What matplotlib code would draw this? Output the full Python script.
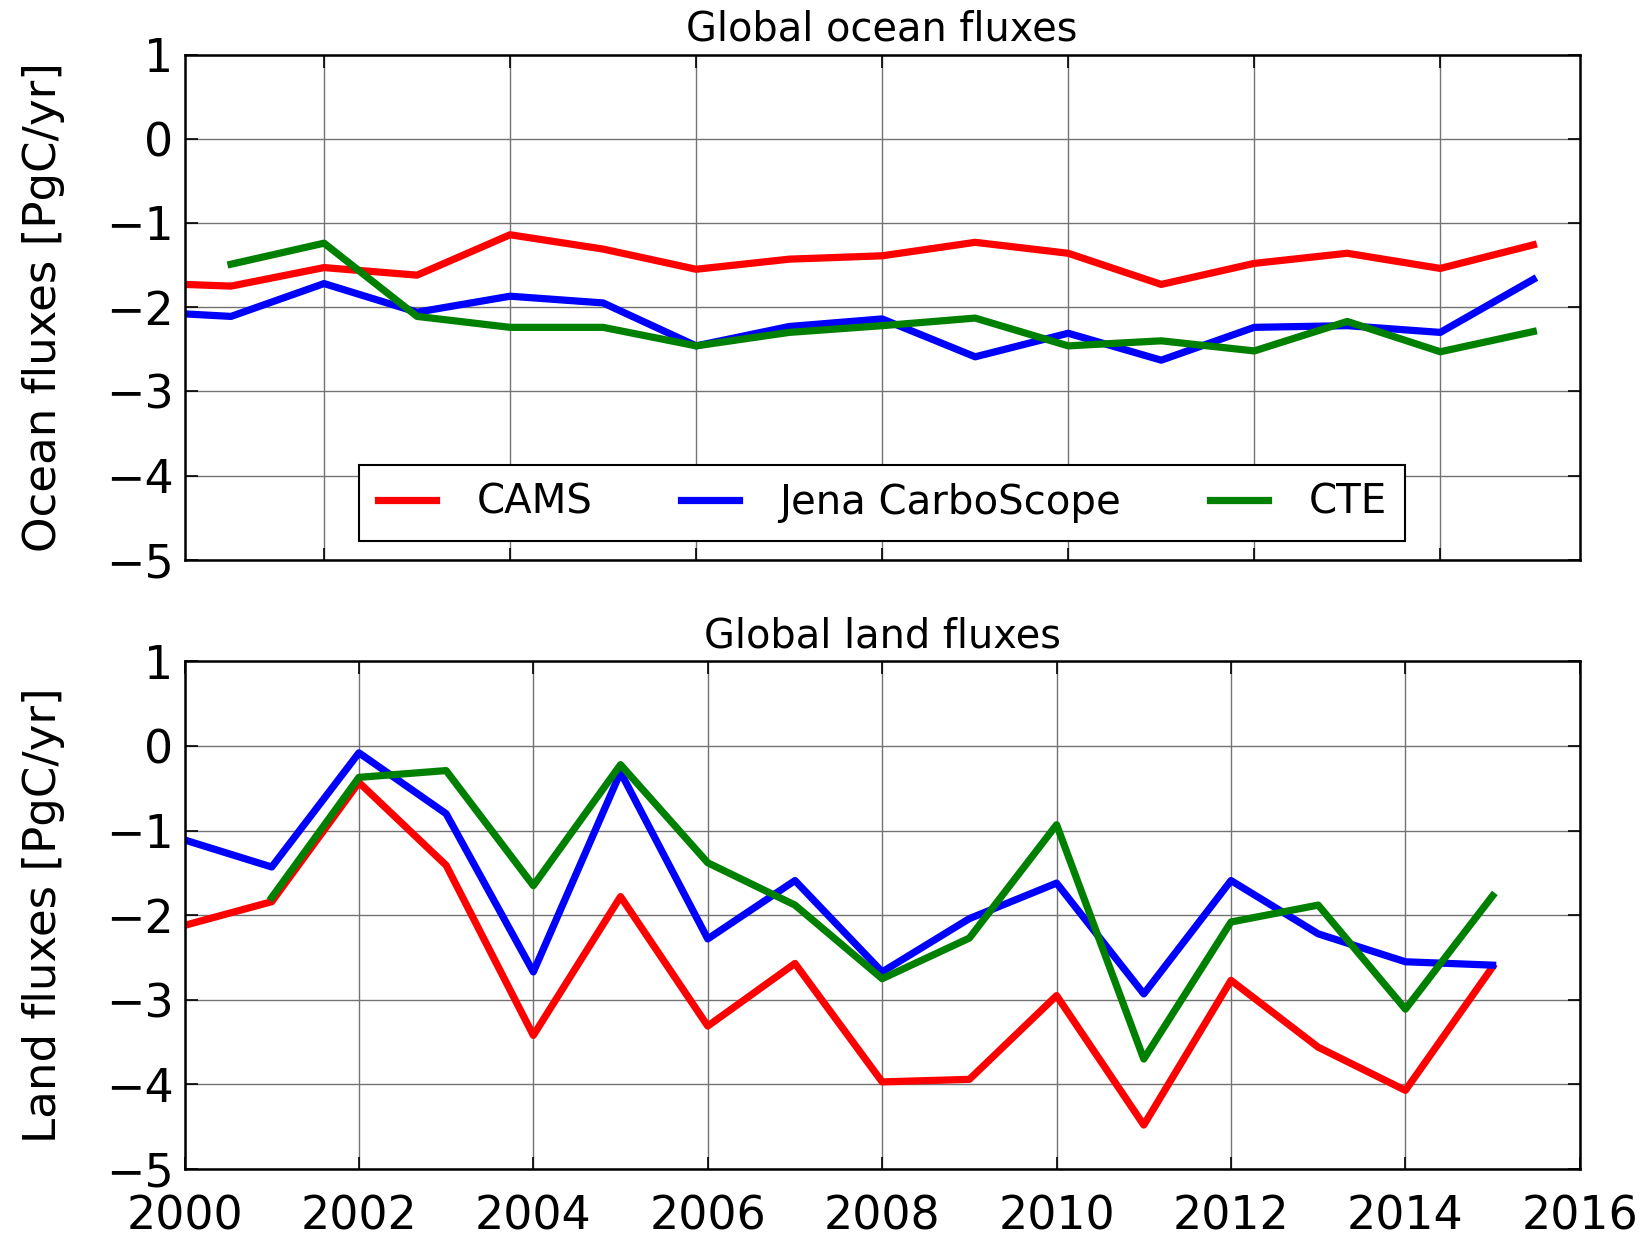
import matplotlib
matplotlib.use("Agg")
import matplotlib.pyplot as plt
import numpy as np

# years of the annual fluxes
anni = np.arange(2000, 2016)

# Global ocean fluxes [PgC/yr]
oceano_cams = [-1.71, -1.75, -1.53, -1.62, -1.14, -1.31, -1.55, -1.43,
               -1.39, -1.23, -1.36, -1.73, -1.48, -1.36, -1.54, -1.26]
oceano_jena = [-2.05, -2.11, -1.72, -2.06, -1.87, -1.95, -2.46, -2.23,
               -2.14, -2.59, -2.31, -2.63, -2.24, -2.22, -2.30, -1.67]
oceano_cte = [np.nan, -1.49, -1.24, -2.11, -2.24, -2.24, -2.46, -2.30,
              -2.22, -2.13, -2.46, -2.40, -2.52, -2.17, -2.53, -2.29]

# Global land fluxes [PgC/yr]
terra_cams = [-2.12, -1.84, -0.43, -1.41, -3.42, -1.78, -3.31, -2.57,
              -3.97, -3.94, -2.95, -4.48, -2.77, -3.56, -4.07, -2.61]
terra_jena = [-1.11, -1.43, -0.08, -0.80, -2.67, -0.31, -2.28, -1.59,
              -2.67, -2.04, -1.62, -2.93, -1.59, -2.22, -2.55, -2.59]
terra_cte = [np.nan, -1.79, -0.37, -0.29, -1.65, -0.22, -1.38, -1.88,
             -2.75, -2.27, -0.93, -3.70, -2.08, -1.88, -3.11, -1.77]

nomi = ["CAMS", "Jena CarboScope", "CTE"]
colori = ["#ff0000", "#0000ff", "#008000"]

plt.rcParams['font.family'] = ['DejaVu Sans']

fig = plt.figure(figsize=(16.46, 12.41), dpi=100)
ax1 = fig.add_axes([0.1121, 0.549, 0.8477, 0.407])
ax2 = fig.add_axes([0.1121, 0.058, 0.8477, 0.409])


def stileAssi(ax):
    ax.set_ylim(-5, 1)
    ax.set_yticks(np.arange(-5, 2, 1))
    ax.grid(True, color='0.45', linewidth=1.0, linestyle='-')
    ax.set_axisbelow(True)
    ax.tick_params(direction='in', top=True, right=True, length=9,
                   width=1.2, labelsize=33, pad=8)
    ax.tick_params(axis='x', pad=18)
    for s in ax.spines.values():
        s.set_linewidth(1.8)


# top panel: ocean
for serie, nome, col in zip([oceano_cams, oceano_jena, oceano_cte], nomi, colori):
    ax1.plot(anni, serie, color=col, linewidth=5.2, label=nome)
stileAssi(ax1)
ax1.set_xlim(2000.5, 2015.5)
ax1.set_xticks(np.arange(2002, 2016, 2))
ax1.tick_params(labelbottom=False)
ax1.set_title("Global ocean fluxes", fontsize=28.7, pad=10)
ax1.set_ylabel("Ocean fluxes [PgC/yr]", fontsize=32.5)
ax1.yaxis.set_label_coords(-0.086, 0.5)
leg = ax1.legend(loc='lower center', bbox_to_anchor=(0.5, 0.037), ncol=3,
                 fontsize=29, handlelength=1.45, handletextpad=1.0,
                 columnspacing=2.2, fancybox=False, borderpad=0.45,
                 borderaxespad=0.0, framealpha=1.0)
leg.get_frame().set_edgecolor('black')
leg.get_frame().set_linewidth(1.5)

# bottom panel: land
for serie, nome, col in zip([terra_cams, terra_jena, terra_cte], nomi, colori):
    ax2.plot(anni, serie, color=col, linewidth=5.2, label=nome)
stileAssi(ax2)
ax2.set_xlim(2000, 2016)
ax2.set_xticks(np.arange(2000, 2017, 2))
ax2.set_title("Global land fluxes", fontsize=28.7, pad=10)
ax2.set_ylabel("Land fluxes [PgC/yr]", fontsize=32.5)
ax2.yaxis.set_label_coords(-0.086, 0.5)

fig.savefig("out.png", dpi=100)
